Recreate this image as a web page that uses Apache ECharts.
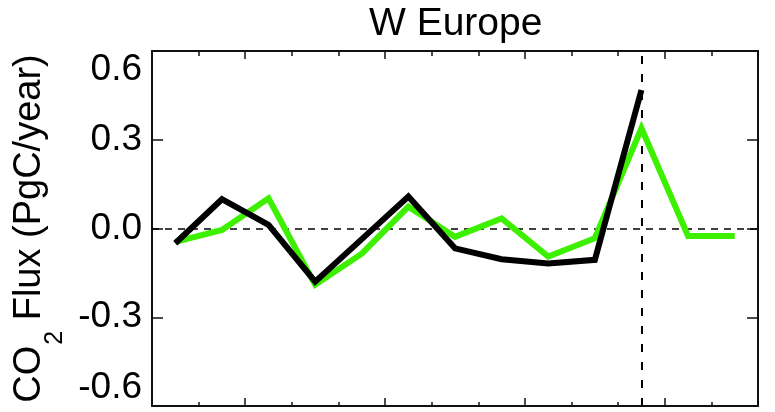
<!DOCTYPE html>
<html>
<head>
<meta charset="utf-8">
<script src="https://cdn.jsdelivr.net/npm/echarts@6/dist/echarts.min.js"></script>
<style>
html,body{margin:0;padding:0;background:#fff;}
#chart{width:775px;height:412px;}
</style>
</head>
<body>
<div id="chart"></div>
<script>
// ---- data ----
const years = ['1993','1994','1995','1996','1997','1998','1999','2000','2001','2002','2003','2004','2005'];
const greenFlux = [-0.045, -0.005, 0.102, -0.19, -0.085, 0.074, -0.028, 0.034, -0.095, -0.033, 0.339, -0.025, -0.025];
const blackFlux = [-0.05, 0.099, 0.012, -0.18, -0.036, 0.108, -0.067, -0.104, -0.118, -0.106, 0.468, null, null];
const yMin = -0.6, yMax = 0.6, yStep = 0.3;
const markYear = '2003';
const titleText = 'W Europe';

const FONT = "'Liberation Sans', Arial, Helvetica, sans-serif";
const chart = echarts.init(document.getElementById('chart'), null, {renderer: 'canvas'});

function xAxisDef(position, tickLen, major) {
  return {
    type: 'category', data: years, position: position, boundaryGap: true,
    axisLine: {show: !major, onZero: false, lineStyle: {color: '#111', width: 2}},
    axisTick: {show: true, inside: true, length: tickLen,
      interval: major ? function (i) { return i % 3 === 2; } : 0,
      lineStyle: {color: '#111', width: 1.5}},
    axisLabel: {show: false}, splitLine: {show: false}
  };
}

function yAxisDef(position, withLabels) {
  return {
    type: 'value', position: position, min: yMin, max: yMax, interval: yStep,
    axisLine: {show: true, onZero: false, lineStyle: {color: '#111', width: 2}},
    axisTick: {show: true, inside: true, length: 11, lineStyle: {color: '#111', width: 1.5}},
    splitLine: {show: false},
    axisLabel: withLabels ? {
      show: true, margin: 10, color: '#000', fontSize: 37, fontFamily: FONT,
      formatter: function (v) { return v.toFixed(1); },
      verticalAlignMinLabel: 'bottom', verticalAlignMaxLabel: 'top'
    } : {show: false},
    name: withLabels ? '{a|CO}{b|2}{a| Flux (PgC/year)}' : '',
    nameLocation: 'middle', nameGap: 86, nameRotate: 90,
    nameTextStyle: {
      color: '#000', fontFamily: FONT,
      rich: {
        a: {fontSize: 38, fontFamily: FONT, color: '#000', lineHeight: 40, verticalAlign: 'top'},
        b: {fontSize: 25, fontFamily: FONT, color: '#000', lineHeight: 25, verticalAlign: 'top', padding: [32, 0, 0, 1]}
      }
    }
  };
}

const option = {
  backgroundColor: '#fff',
  animation: false,
  title: {
    text: titleText, left: 369, top: 5, padding: 0,
    textStyle: {fontSize: 39, fontWeight: 'normal', fontFamily: FONT, color: '#000'}
  },
  grid: {left: 152, right: 17, top: 51, bottom: 6, containLabel: false},
  xAxis: [xAxisDef('bottom', 4, false), xAxisDef('bottom', 8, true), xAxisDef('top', 5, false), xAxisDef('top', 8, true)],
  yAxis: [yAxisDef('left', true), yAxisDef('right', false)],
  series: [
    {
      type: 'line', data: greenFlux, xAxisIndex: 0, yAxisIndex: 0, symbol: 'none', z: 3,
      lineStyle: {color: '#3cf000', width: 6, join: 'miter', cap: 'butt'},
      markLine: {
        silent: true, z: 1, symbol: ['none', 'none'], label: {show: false},
        data: [
          {yAxis: 0, lineStyle: {color: '#000', width: 1.5, type: [7, 6]}},
          {xAxis: markYear, lineStyle: {color: '#000', width: 2, type: [8, 10]}}
        ]
      }
    },
    {
      type: 'line', data: blackFlux, xAxisIndex: 0, yAxisIndex: 0, symbol: 'none', z: 4,
      connectNulls: false,
      lineStyle: {color: '#000', width: 6, join: 'miter', cap: 'butt'}
    }
  ]
};
chart.setOption(option);
</script>
</body>
</html>
